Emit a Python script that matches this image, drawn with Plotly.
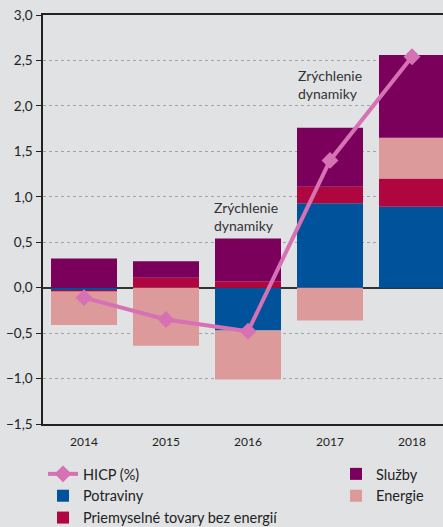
import plotly.graph_objects as go

years = ["2014", "2015", "2016", "2017", "2018"]
potraviny = [-0.03, 0.0, -0.47, 0.93, 0.89]
priemyselne = [-0.01, 0.11, 0.07, 0.18, 0.31]
energie = [-0.37, -0.64, -0.54, -0.36, 0.45]
sluzby = [0.32, 0.18, 0.47, 0.65, 0.91]
hicp = [-0.11, -0.35, -0.48, 1.40, 2.54]

y_ticks = [-1.5, -1.0, -0.5, 0.0, 0.5, 1.0, 1.5, 2.0, 2.5, 3.0]

C_POT = "#00529b"
C_PRI = "#b0063f"
C_ENE = "#dc9a9a"
C_SLU = "#7a005b"
C_HICP = "#d672b4"
BG = "#e1e2e4"
FONT = "Lato"

fig = go.Figure()
bw = 0.805
fig.add_trace(go.Bar(x=years, y=potraviny, name="Potraviny", marker=dict(color=C_POT, line=dict(width=0)), width=bw, legend="legend"))
fig.add_trace(go.Bar(x=years, y=priemyselne, name="Priemyselné tovary bez energií", marker=dict(color=C_PRI, line=dict(width=0)), width=bw, legend="legend"))
fig.add_trace(go.Bar(x=years, y=energie, name="Energie", marker=dict(color=C_ENE, line=dict(width=0)), width=bw, legend="legend2"))
fig.add_trace(go.Bar(x=years, y=sluzby, name="Služby", marker=dict(color=C_SLU, line=dict(width=0)), width=bw, legend="legend2"))
fig.add_trace(go.Scatter(x=years, y=hicp, name="HICP (%)", mode="lines+markers",
                         line=dict(color=C_HICP, width=4),
                         marker=dict(symbol="diamond", size=13, color=C_HICP),
                         legend="legend", legendrank=1))

fig.add_annotation(x=1.56, y=0.78, xref="x", yref="y", text="Zrýchlenie<br>dynamiky",
                   showarrow=False, xanchor="left", yanchor="middle", align="left",
                   font=dict(family=FONT, size=14, color="#333333"))
fig.add_annotation(x=2.59, y=2.23, xref="x", yref="y", text="Zrýchlenie<br>dynamiky",
                   showarrow=False, xanchor="left", yanchor="middle", align="left",
                   font=dict(family=FONT, size=14, color="#333333"))

xr = [-0.5, 4.378]
fig.update_layout(
    width=443, height=527,
    margin=dict(l=43, r=0, t=15, b=103, autoexpand=False),
    paper_bgcolor=BG, plot_bgcolor=BG,
    barmode="relative", bargap=0.2,
    separators=", ",
    font=dict(family=FONT, size=13, color="#222222"),
    xaxis=dict(type="category", range=xr, showgrid=False, zeroline=False, automargin=False,
               showline=True, linecolor="#222222", linewidth=1.5, mirror=True,
               ticks="", tickfont=dict(size=12, color="#222222"), ticklabelstandoff=6),
    xaxis2=dict(range=xr, overlaying="x", anchor="free", position=1/3, side="bottom",
                tickvals=[0.5, 1.5, 2.5, 3.5], ticks="outside", ticklen=4, tickwidth=1,
                tickcolor="#333333", showticklabels=False, showline=False, showgrid=False,
                zeroline=False, automargin=False),
    yaxis=dict(range=[-1.5, 3.0], tickvals=y_ticks, tickformat=".1f", automargin=False,
               showgrid=True, gridcolor="#a4a4a4", griddash="dot", gridwidth=1,
               zeroline=True, zerolinecolor="#333333", zerolinewidth=1.5,
               showline=True, linecolor="#222222", linewidth=1.5, mirror=False,
               ticks="outside", ticklen=5, tickcolor="#222222", ticklabeloverflow="allow",
               tickfont=dict(size=13.5, color="#222222"), ticklabelstandoff=1),
    legend=dict(x=0.0, y=-0.083, xanchor="left", yanchor="top", orientation="v",
                bgcolor="rgba(0,0,0,0)", font=dict(family=FONT, size=14.5, color="#222222"),
                traceorder="normal", itemwidth=30),
    legend2=dict(x=0.7325, y=-0.083, xanchor="left", yanchor="top", orientation="v",
                 bgcolor="rgba(0,0,0,0)", font=dict(family=FONT, size=14.5, color="#222222"),
                 traceorder="reversed", itemwidth=30),
)

fig.write_html("out.html", config={"displayModeBar": False},
               post_script="document.body.style.margin='0';")
